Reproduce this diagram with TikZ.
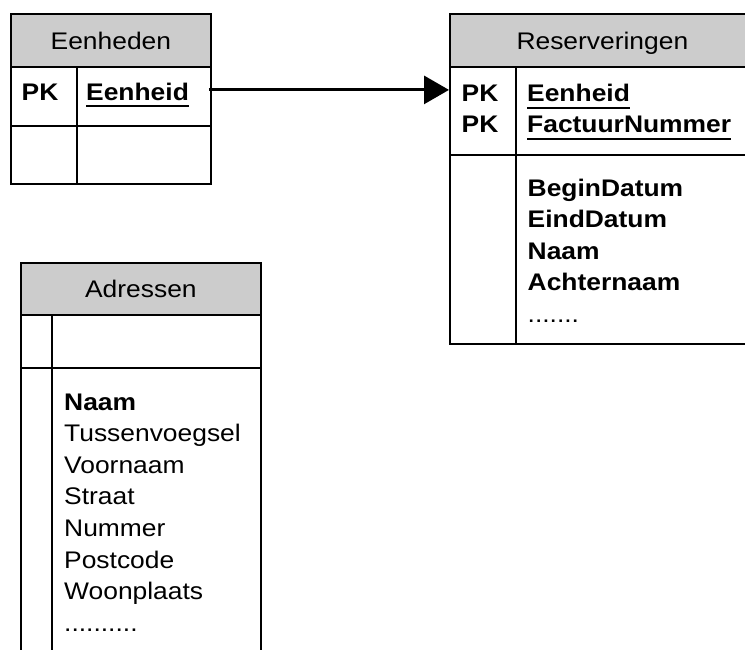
\documentclass[tikz,border=0pt]{standalone}
\usepackage{fontspec}
\setmainfont[FakeStretch=1.1]{Liberation Sans}
\usepackage{tikz}
\usetikzlibrary{arrows.meta,positioning}
\definecolor{headgray}{RGB}{204,204,204}
\tikzstyle{cell}=[draw,line width=1.8pt,inner sep=0pt,anchor=north west]
\tikzstyle{tablehead}=[cell,fill=headgray,font=\fontsize{24}{28}\selectfont,text height=18pt,text depth=0pt]
\tikzstyle{fieldname}=[anchor=base west,inner sep=0pt,font=\fontsize{24}{28}\selectfont]
\tikzstyle{keyname}=[fieldname,font=\fontsize{24}{28}\selectfont\bfseries]
\tikzstyle{fkarrow}=[line width=3pt,-{Triangle[length=25pt,width=28pt]}]
\newcommand{\ulkey}[1]{\setbox0\hbox{#1}\rlap{\rule[-7pt]{\wd0}{2pt}}\box0}

\begin{document}
\begin{tikzpicture}[x=1pt,y=-1pt]
\clip (0,0) rectangle (745,649);
% Eenheden
\draw (10, 13) node [tablehead, minimum width=200pt, minimum height=53pt] (eenhhead) {Eenheden};
\draw (10, 66) node [cell, minimum width=66pt, minimum height=59pt] (eenhpk) {};
\draw (76, 66) node [cell, minimum width=134pt, minimum height=59pt] (eenhkey) {};
\draw (10, 125) node [cell, minimum width=66pt, minimum height=58pt] (eenhpkb) {};
\draw (76, 125) node [cell, minimum width=134pt, minimum height=58pt] (eenhattr) {};
\draw (21.5, 100) node [keyname] (eenhpklabel) {PK};
\draw (86, 100) node [keyname] (eenhkeylabel) {\ulkey{Eenheid}};
% Reserveringen
\draw (449, 13) node [tablehead, minimum width=305pt, minimum height=53pt] (resvhead) {Reserveringen};
\draw (449, 66) node [cell, minimum width=66pt, minimum height=88pt] (resvpk) {};
\draw (515, 66) node [cell, minimum width=239pt, minimum height=88pt] (resvkey) {};
\draw (449, 154) node [cell, minimum width=66pt, minimum height=189pt] (resvpkb) {};
\draw (515, 154) node [cell, minimum width=239pt, minimum height=189pt] (resvattr) {};
\draw (461.5, 101.5) node [keyname] (resvpka) {PK};
\draw (461.5, 132.5) node [keyname] (resvpkc) {PK};
\draw (527, 101.5) node [keyname] (resvkeya) {\ulkey{Eenheid}};
\draw (527, 132.5) node [keyname] (resvkeyb) {\ulkey{FactuurNummer}};
\draw (527.5, 196) node [keyname] (resvbegin) {BeginDatum};
\draw (527.5, 227.5) node [keyname] (resveind) {EindDatum};
\draw (527.5, 259) node [keyname] (resvnaam) {Naam};
\draw (527.5, 290.5) node [keyname] (resvachter) {Achternaam};
\draw (527.5, 322) node [fieldname] (resvdots) {.......};
% Adressen
\draw (20, 262) node [tablehead, minimum width=240pt, minimum height=52pt] (adrhead) {Adressen};
\draw (20, 314) node [cell, minimum width=31pt, minimum height=53pt] (adrpk) {};
\draw (51, 314) node [cell, minimum width=209pt, minimum height=53pt] (adrkey) {};
\draw (20, 367) node [cell, minimum width=31pt, minimum height=300pt] (adrpkb) {};
\draw (51, 367) node [cell, minimum width=209pt, minimum height=300pt] (adrattr) {};
\draw (64, 410) node [keyname] (adrnaam) {Naam};
\draw (64, 441.6) node [fieldname] (adrtussen) {Tussenvoegsel};
\draw (64, 473.2) node [fieldname] (adrvoornaam) {Voornaam};
\draw (64, 504.8) node [fieldname] (adrstraat) {Straat};
\draw (64, 536.4) node [fieldname] (adrnummer) {Nummer};
\draw (64, 568) node [fieldname] (adrpostcode) {Postcode};
\draw (64, 599.6) node [fieldname] (adrwoon) {Woonplaats};
\draw (64, 631.2) node [fieldname] (adrdots) {..........};
% relatie
\draw[fkarrow] ([xshift=-3pt, yshift=6.5pt]eenhkey.east) coordinate (fkstart) -- (resvpk.west |- fkstart);
\end{tikzpicture}
\end{document}
